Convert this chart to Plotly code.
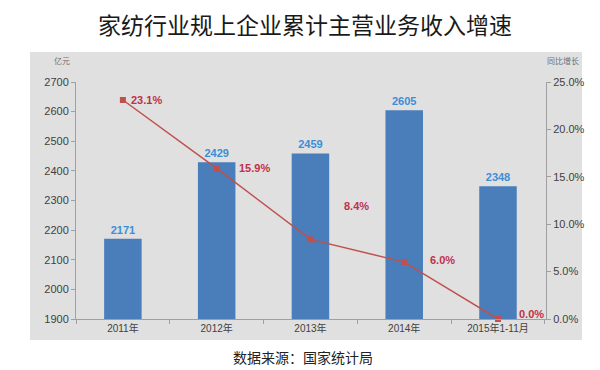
import plotly.graph_objects as go

categories = ["2011年", "2012年", "2013年", "2014年", "2015年1-11月"]
revenue = [2171, 2429, 2459, 2605, 2348]
growth = [23.1, 15.9, 8.4, 6.0, 0.0]
left_ticks = [1900, 2000, 2100, 2200, 2300, 2400, 2500, 2600, 2700]
right_ticks = [0, 5, 10, 15, 20, 25]

# label offsets (pixels) for growth labels: (xshift, yshift)
label_shift = [(6, 0), (20, 0), (32, 33), (24, 2), (19, 5)]

# Page has an 8px body margin, so the figure is 8px smaller and every
# position is given relative to the figure's top-left (page minus 8).
W, H = 592, 362
L, R, T, B = 68, 54, 74, 51
PW, PH = W - L - R, H - T - B

def px(x):
    return (x - 8 - L) / PW

def py(y):
    return 1 - (y - 8 - T) / PH

fig = go.Figure()
fig.add_trace(go.Bar(
    x=categories, y=revenue, width=0.4,
    marker=dict(color="#4a7ebb", line=dict(width=0)),
    text=[f"<b>{v}</b>" for v in revenue], textposition="outside",
    textfont=dict(family="Liberation Sans, Arial", size=11, color="#3b8ed6"),
    cliponaxis=False, showlegend=False,
))
fig.add_trace(go.Scatter(
    x=categories, y=growth, yaxis="y2", mode="lines+markers",
    line=dict(color="#c0504d", width=1.5),
    marker=dict(symbol="square", size=6, color="#c0504d"),
    cliponaxis=False, showlegend=False,
))
for c, g, (dx, dy) in zip(categories, growth, label_shift):
    fig.add_annotation(x=c, y=g, yref="y2", text=f"<b>{g:.1f}%</b>", showarrow=False,
                       xanchor="left", yanchor="middle", xshift=dx, yshift=dy,
                       font=dict(family="Liberation Sans, Arial", size=11, color="#c0304a"))

fig.update_layout(
    width=W, height=H,
    margin=dict(l=L, r=R, t=T, b=B),
    paper_bgcolor="white", plot_bgcolor="#e0e0e0",
    xaxis=dict(
        type="category", showline=True, linecolor="#a0a0a0", linewidth=1,
        ticks="outside", tickson="boundaries", ticklen=4, tickcolor="#a0a0a0",
        tickfont=dict(family="Liberation Sans, Noto Sans CJK SC", size=10, color="#404040"),
        showgrid=False,
    ),
    yaxis=dict(
        range=[1900, 2700], tickvals=left_ticks, showline=True, linecolor="#a0a0a0",
        ticks="outside", ticklen=4, tickcolor="#a0a0a0", showgrid=False, zeroline=False,
        tickfont=dict(family="Liberation Sans, Arial", size=11, color="#404040"),
    ),
    yaxis2=dict(
        range=[0, 25], tickvals=right_ticks, overlaying="y", side="right",
        ticktext=[f"{v:.1f}%" for v in right_ticks],
        showline=True, linecolor="#a0a0a0", ticks="outside", ticklen=4,
        tickcolor="#a0a0a0", showgrid=False, zeroline=False,
        tickfont=dict(family="Liberation Sans, Arial", size=11, color="#404040"),
    ),
    font=dict(family="Noto Sans CJK SC"),
)

# grey chart panel behind plot
fig.add_shape(type="rect", xref="paper", yref="paper",
              x0=px(30), x1=px(582), y0=py(340), y1=py(52),
              fillcolor="#e0e0e0", line=dict(width=0), layer="below")

fig.add_annotation(text="家纺行业规上企业累计主营业务收入增速", xref="paper", yref="paper",
                   x=px(305), y=py(24), showarrow=False,
                   font=dict(family="Noto Sans CJK SC", size=23, color="#1a1a1a"),
                   xanchor="center", yanchor="middle")
fig.add_annotation(text="亿元", xref="paper", yref="paper",
                   x=px(62), y=py(61), showarrow=False,
                   font=dict(family="Noto Sans CJK SC", size=8, color="#707070"),
                   xanchor="center", yanchor="middle")
fig.add_annotation(text="同比增长", xref="paper", yref="paper",
                   x=px(563), y=py(61), showarrow=False,
                   font=dict(family="Noto Sans CJK SC", size=8, color="#707070"),
                   xanchor="center", yanchor="middle")
fig.add_annotation(text="数据来源：国家统计局", xref="paper", yref="paper",
                   x=px(303), y=py(357), showarrow=False,
                   font=dict(family="Noto Sans CJK SC", size=14, color="#222222"),
                   xanchor="center", yanchor="middle")

fig.write_html("out.html")
